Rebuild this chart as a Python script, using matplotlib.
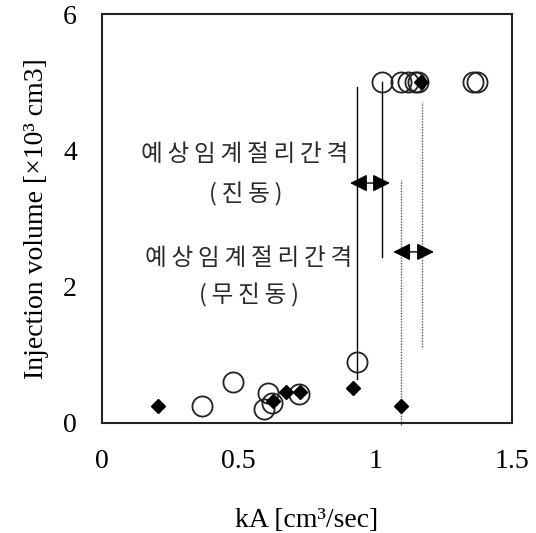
import matplotlib
matplotlib.use("Agg")
import matplotlib.pyplot as plt

# Open circles: measured injections
circle_x = [1.024, 1.093, 1.12, 1.145, 1.157, 1.359, 1.371,
            0.932, 0.478, 0.367, 0.609, 0.623, 0.594, 0.722]
circle_y = [5.0, 5.0, 5.0, 5.0, 5.0, 5.0, 5.0,
            0.9, 0.6, 0.25, 0.44, 0.3, 0.2, 0.42]

# Filled diamonds
diamond_x = [0.206, 0.627, 0.673, 0.724, 0.92, 1.093, 1.167]
diamond_y = [0.25, 0.32, 0.46, 0.45, 0.51, 0.25, 5.0]

# Guide lines (x, y_start, y_end)
solid_lines = [(0.932, 0.65, 4.93), (1.026, 2.44, 5.0)]
dotted_lines = [(1.096, -0.03, 3.56), (1.173, 1.12, 4.71)]

# Interval arrows (x_start, x_end, y)
arrows = [(0.908, 1.054, 3.52), (1.066, 1.215, 2.51)]

# Annotation labels (x, y, text)
labels = [(0.523, 3.94, "예상임계절리간격"),
          (0.525, 3.35, "(진동)"),
          (0.537, 2.42, "예상임계절리간격"),
          (0.54, 1.88, "(무진동)")]

x_ticks = [0, 0.5, 1, 1.5]
x_tick_labels = ["0", "0.5", "1", "1.5"]
y_ticks = [0, 2, 4, 6]
y_tick_labels = ["0", "2", "4", "6"]

serif = "Liberation Serif"
kr = ["Noto Sans CJK KR", "DejaVu Sans"]


def spaced(s):
    # open up the Hangul lettering with thin spaces between glyphs
    return "\u2009".join(s)


fig = plt.figure(figsize=(5.36, 5.33), dpi=100)
ax = fig.add_axes([0.190, 0.2064, 0.765, 0.7673])

for x, y0, y1 in solid_lines:
    ax.plot([x, x], [y0, y1], color="black", lw=1.0, zorder=2)
for x, y0, y1 in dotted_lines:
    ax.plot([x, x], [y0, y1], color="#555555", lw=1.0, ls=(0, (1, 1)),
            zorder=2, clip_on=False)

ax.plot(circle_x, circle_y, ls="none", marker="o", ms=14.5,
        mfc="none", mec="#222222", mew=1.3, zorder=3)
ax.plot(diamond_x, diamond_y, ls="none", marker="D", ms=7.5,
        mfc="black", mec="black", zorder=4)

for x0, x1, y in arrows:
    ax.annotate("", xy=(x1, y), xytext=(x0, y),
                arrowprops=dict(arrowstyle="<|-|>,head_length=0.7,head_width=0.35",
                                color="black", lw=1.0, mutation_scale=15,
                                shrinkA=0, shrinkB=0), zorder=5)

for x, y, t in labels:
    ax.text(x, y, spaced(t), ha="center", va="center", fontsize=17,
            family=kr, color="#2a2a2a")

ax.set_xlim(0, 1.5)
ax.set_ylim(0, 6)
ax.set_xticks(x_ticks)
ax.set_xticklabels(x_tick_labels, family=serif, fontsize=20)
ax.set_yticks(y_ticks)
ax.set_yticklabels(y_tick_labels, family=serif, fontsize=20)
ax.tick_params(axis="both", length=0)
ax.tick_params(axis="x", pad=19)
ax.tick_params(axis="y", pad=18)
for s in ax.spines.values():
    s.set_linewidth(1.5)
    s.set_color("#222222")

ax.set_xlabel("kA [cm³/sec]", family=serif, fontsize=20, labelpad=24)
ax.set_ylabel("Injection volume [×10³ cm3]", family=serif, fontsize=20, labelpad=10)

fig.savefig("out.png", dpi=100)
